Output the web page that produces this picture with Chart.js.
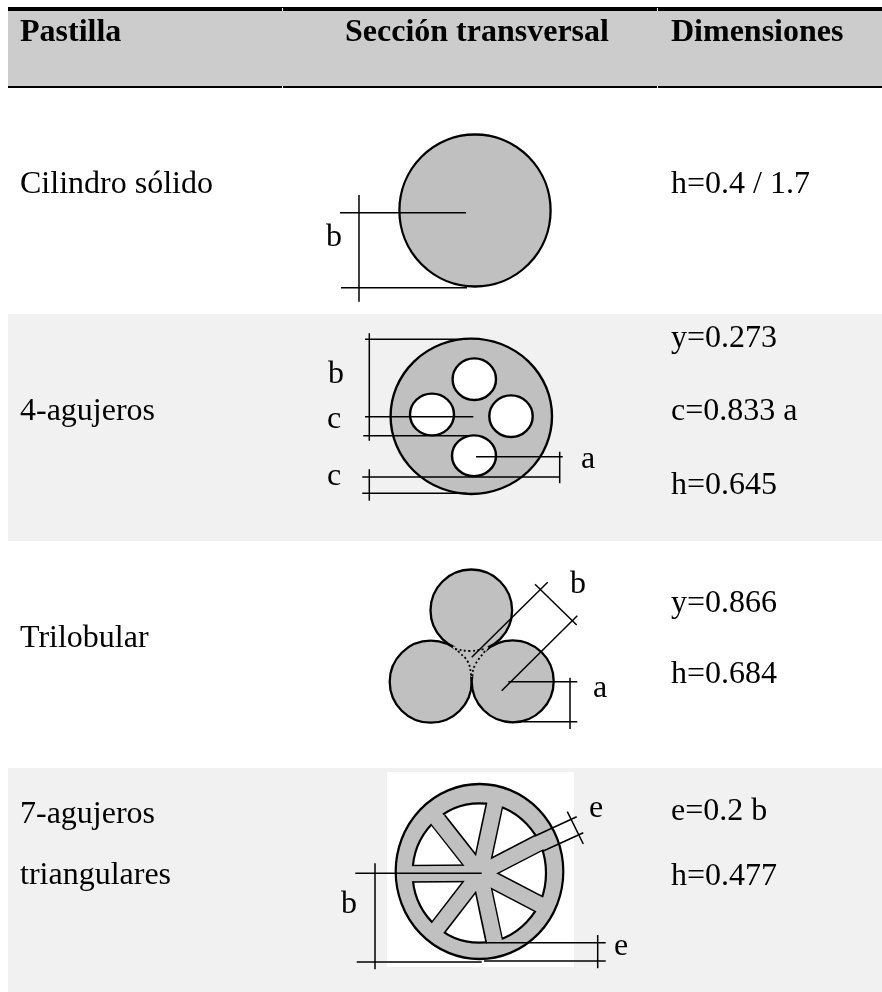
<!DOCTYPE html>
<html><head><meta charset="utf-8">
<style>html,body{margin:0;padding:0;background:#fff}canvas{display:block}</style>
<script src="https://cdn.jsdelivr.net/npm/chart.js@4"></script>
</head><body><canvas id="c" width="882" height="992"></canvas>
<script>
// Text
const headerLabels = ["Pastilla","Sección transversal","Dimensiones"];
const headerX = [20,345,671];
const bodyLabels = ["Cilindro sólido","h=0.4 / 1.7","b",
 "y=0.273","c=0.833 a","h=0.645","4-agujeros","b","c","c","a",
 "Trilobular","y=0.866","h=0.684","b","a",
 "7-agujeros","triangulares","e=0.2 b","h=0.477","b","e","e"];
const bodyX = [20,671,326, 671,671,671,20,328,327,327,581, 20,671,671,570,593, 20,20,671,671,341,589,614];
const bodyY = [193,193,246, 347,420,494,420,383,428,485,468, 647,612,683,593,697, 823,884,820,885,913,817,955];
// Table bands: [x0,x1,y,thickness]
const bandBack = [[8,882,48.5,75,"#cccccc"],[8,882,427.5,227,"#f1f1f1"],[8,882,880,224,"#f1f1f1"],[387,574,869.5,195,"#ffffff"]];
const rules = [[8,882,9,4],[8,882,87,2]];
const ruleGaps = [[282.5,8,11],[282.5,86,88],[657.5,8,11],[657.5,86,88]];
// Discs: cx, cy, rx, ry
const grayDiscs = [[475,210.5,75.6,76],[471.3,416.3,80.7,77.7],[471.3,610.3,40.8,40.8],[430.7,681.7,41,41],[512.7,681.3,41,41],[479.5,871.5,83.8,87.5]];
const whiteDiscs = [[474.3,379.2,21.7,20.8],[432,414.5,22,20.8],[511,416.2,21.7,20.8],[474,455.7,22,20.4],[479.3,873,66.7,69.7]];
// Trilobular central gap
const gapX = [453,488,471.5];
const gapY = [647,647,677];
const dotted = [
 [[455,649],[470,651],[485,649]],
 [[458,651],[468,662],[471.5,677]],
 [[485,651],[475,665],[471.5,677]]
];
// Wheel spokes: hub, outline end, body end
const hub = [480,873.3];
const spokeEdge = [[539.3,842.5],[494.2,806.3],[539.3,904.3],[494.1,940.3],[438.6,926.9],[438.3,820.1],[413.7,873.7]];
const spokeRim = [[550.3,837],[497,793.7],[550.3,910],[497,953],[430.7,937],[430,810],[400.7,873.7]];
// Dimension lines [x0,y0,x1,y1]
const dims = [
 [340,212.7,466,212.7],[341,287.7,467,287.7],[359,195,359,301.7],
 [365,339.3,466.7,339.3],[369.3,333.3,369.3,440.7],[365,416.7,473.3,416.7],[363.3,435.7,470,435.7],
 [369.3,469.3,369.3,500.7],[362.3,477,560,477],[362.3,493.3,466.7,493.3],[476,456.7,562.7,456.7],[559.7,451.7,559.7,483.3],
 [501.7,690.7,577.3,615.7],[471.7,657.3,547.7,582.3],[535,584.3,576.7,625],
 [508.3,681.7,577.3,681.7],[512.7,721.7,577.3,721.7],[570,677.7,570,729],
 [355.3,873.3,481.7,873.3],[375,863.3,375,969.3],[356.7,962,481.7,962],[484,961,605.7,961],[485.7,942.7,605.7,942.7],[597.7,935,597.7,968.3],
 [535,836,576.7,816.7],[543.3,851,583.3,832.7],[567.3,811.7,583.3,844]
];

const SERIF = '"Liberation Serif","Times New Roman",serif';
const datasets = [];
const add = d => { d.order = -datasets.length; datasets.push(d); };
const seg = (pts,color,w,extra) => add(Object.assign({type:'scatter',showLine:true,data:pts,borderColor:color,borderWidth:w,borderCapStyle:'butt',pointRadius:0,fill:false},extra||{}));
const disc = (d,fill) => add({type:'scatter',data:[{x:d[0],y:d[1]}],pointRadius:d[3],pointHoverRadius:d[3],pointBackgroundColor:fill,pointBorderColor:'#000',pointBorderWidth:2.3,stretchX:d[2]/d[3]});

bandBack.forEach(b => seg([{x:b[0],y:b[2]},{x:b[1],y:b[2]}],b[4],b[3]));
rules.forEach(r => seg([{x:r[0],y:r[2]},{x:r[1],y:r[2]}],'#000',r[3]));
ruleGaps.forEach(g => seg([{x:g[0],y:g[1]},{x:g[0],y:g[2]}],'#fff',1));
grayDiscs.forEach(d => disc(d,'#c0c0c0'));
whiteDiscs.forEach(d => disc(d,'#fff'));
add({type:'scatter',showLine:true,fill:'shape',backgroundColor:'#c0c0c0',borderColor:'#c0c0c0',borderWidth:1,pointRadius:0,
     data:gapX.map((x,i)=>({x,y:gapY[i]})).concat([{x:gapX[0],y:gapY[0]}])});
dotted.forEach(p => seg(p.map(a=>({x:a[0],y:a[1]})),'#000',1.8,{borderDash:[2,2.5],tension:0.4}));
spokeEdge.forEach(e => seg([{x:hub[0],y:hub[1]},{x:e[0],y:e[1]}],'#000',18));
spokeRim.forEach(e => seg([{x:hub[0],y:hub[1]},{x:e[0],y:e[1]}],'#c0c0c0',15));
dims.forEach(d => seg([{x:d[0],y:d[1]},{x:d[2],y:d[3]}],'#000',1.5));

const stretch = {
  id:'stretch',
  beforeDatasetDraw(chart,args){
    const s = chart.data.datasets[args.index].stretchX;
    if(!s) return;
    const p = chart.getDatasetMeta(args.index).data[0], c = chart.ctx;
    c.save(); c.translate(p.x,p.y); c.scale(s,1); c.translate(-p.x,-p.y);
  },
  afterDatasetDraw(chart,args){
    if(chart.data.datasets[args.index].stretchX) chart.ctx.restore();
  }
};
const texts = {
  id:'texts',
  afterDatasetsDraw(chart){
    const c = chart.ctx, X = chart.scales.x, Y = chart.scales.y;
    c.save(); c.fillStyle='#000'; c.textAlign='left'; c.textBaseline='alphabetic';
    c.font = 'bold 32px '+SERIF;
    headerLabels.forEach((t,i)=>c.fillText(t,X.getPixelForValue(headerX[i]),Y.getPixelForValue(41)));
    c.font = '32px '+SERIF;
    bodyLabels.forEach((t,i)=>c.fillText(t,X.getPixelForValue(bodyX[i]),Y.getPixelForValue(bodyY[i])));
    c.restore();
  }
};
new Chart(document.getElementById('c'),{
  type:'scatter',
  data:{datasets},
  plugins:[stretch,texts],
  options:{
    responsive:false,animation:false,events:[],
    layout:{padding:0,autoPadding:false},
    clip:false,
    plugins:{legend:{display:false},tooltip:{enabled:false},title:{display:false}},
    scales:{
      x:{type:'linear',display:false,min:0,max:882},
      y:{type:'linear',display:false,min:0,max:992,reverse:true}
    }
  }
});
</script></body></html>
